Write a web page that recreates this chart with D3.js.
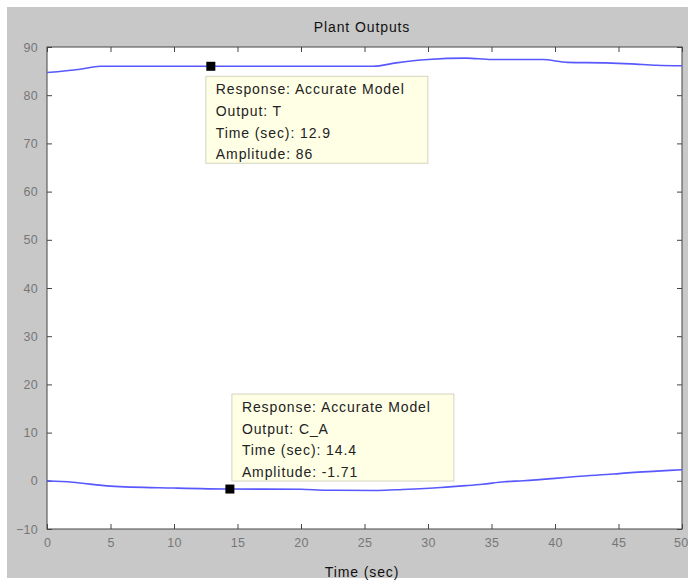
<!DOCTYPE html>
<html><head><meta charset="utf-8">
<script src="https://cdn.jsdelivr.net/npm/d3@7"></script>
<style>body{margin:0;background:#fff;}svg{display:block;}</style>
</head><body>
<script>
const timeT = [0, 2.6, 4.2, 8, 13, 18, 22, 25.7, 27.5, 30, 33, 35, 39, 41, 44, 46, 48, 50];
const valT  = [84.7, 85.4, 86.0, 86.0, 86.0, 86.0, 86.0, 86.0, 86.7, 87.4, 87.7, 87.4, 87.4, 86.8, 86.7, 86.5, 86.2, 86.1];
const timeCA = [0, 2, 5, 10, 14.4, 20, 22, 26, 28, 31, 33, 34.3, 36, 37.5, 40, 41.7, 44.6, 46, 48, 50];
const valCA  = [0.0, -0.3, -1.1, -1.5, -1.71, -1.75, -1.95, -2.0, -1.8, -1.4, -1.0, -0.7, -0.2, 0.0, 0.5, 0.9, 1.4, 1.7, 2.0, 2.3];
const xTicks = [0,5,10,15,20,25,30,35,40,45,50];
const yTicks = [-10,0,10,20,30,40,50,60,70,80,90];
const tips = [
  {t:12.9, v:86, lines:["Response: Accurate Model","Output: T","Time (sec): 12.9","Amplitude: 86"]},
  {t:14.4, v:-1.71, lines:["Response: Accurate Model","Output: C_A","Time (sec): 14.4","Amplitude: -1.71"]}
];

const W=688,H=585;
const svg=d3.select("body").append("svg").attr("width",W).attr("height",H);
svg.append("rect").attr("x",7).attr("y",7).attr("width",W-7).attr("height",H-14).attr("fill","#c8c8c8");
const L=47,R=682,T=47,B=529;
const x=d3.scaleLinear().domain([0,50]).range([L,R]);
const y=d3.scaleLinear().domain([-10,90]).range([B,T]);
svg.append("rect").attr("x",L).attr("y",T).attr("width",R-L).attr("height",B-T).attr("fill","#fff");

const font="Arial, 'Liberation Sans', sans-serif";
const ax=(g)=>{g.selectAll("text").attr("fill","#777").style("font-family",font).style("font-size","12.5px").style("letter-spacing","0.3px");g.selectAll("path").remove();g.selectAll("line").attr("stroke","#444");};
const gx=svg.append("g").attr("transform",`translate(0,${B})`).call(d3.axisBottom(x).tickValues(xTicks).tickSize(-5).tickPadding(9).tickFormat(d3.format("d"))).call(ax);
gx.selectAll("text").filter(d=>d===50).attr("text-anchor","end").attr("dx","6");
svg.append("g").attr("transform",`translate(0,${T})`).call(d3.axisTop(x).tickValues(xTicks).tickSize(-5).tickFormat("")).call(ax);
svg.append("g").attr("transform",`translate(${L},0)`).call(d3.axisLeft(y).tickValues(yTicks).tickSize(-5).tickPadding(9).tickFormat(d3.format("d"))).call(ax);
svg.append("g").attr("transform",`translate(${R},0)`).call(d3.axisRight(y).tickValues(yTicks).tickSize(-5).tickFormat("")).call(ax);
svg.append("rect").attr("x",L).attr("y",T).attr("width",R-L).attr("height",B-T).attr("fill","none").attr("stroke","#444").attr("stroke-width",1);

const line=d3.line().x(d=>x(d[0])).y(d=>y(d[1])).curve(d3.curveMonotoneX);
svg.append("path").datum(timeT.map((t,i)=>[t,valT[i]])).attr("d",line).attr("fill","none").attr("stroke","#5858ff").attr("stroke-width",1.6);
svg.append("path").datum(timeCA.map((t,i)=>[t,valCA[i]])).attr("d",line).attr("fill","none").attr("stroke","#5858ff").attr("stroke-width",1.6);

tips.forEach((tp,k)=>{
  const px=x(tp.t),py=y(tp.v);
  const bx=px+(k==0?-5:2), by=k==0?py+10:py-95;
  const g=svg.append("g");
  g.append("rect").attr("x",bx).attr("y",by).attr("width",222).attr("height",87).attr("fill","#ffffe6").attr("stroke","#d4d4c0");
  tp.lines.forEach((s,i)=>g.append("text").attr("x",bx+10).attr("y",by+18+i*21.7).text(s).attr("fill","#222").style("font-family",font).style("font-size","14px").style("letter-spacing","0.9px"));
  svg.append("rect").attr("x",px-4.5).attr("y",py-4.5).attr("width",9).attr("height",9).attr("fill","#000");
});

svg.append("text").attr("x",362).attr("y",32).attr("text-anchor","middle").text("Plant Outputs").attr("fill","#111").style("font-family",font).style("font-size","14px").style("letter-spacing","0.9px");
svg.append("text").attr("x",362).attr("y",577).attr("text-anchor","middle").text("Time (sec)").attr("fill","#111").style("font-family",font).style("font-size","14px").style("letter-spacing","0.9px");
</script>
</body></html>
